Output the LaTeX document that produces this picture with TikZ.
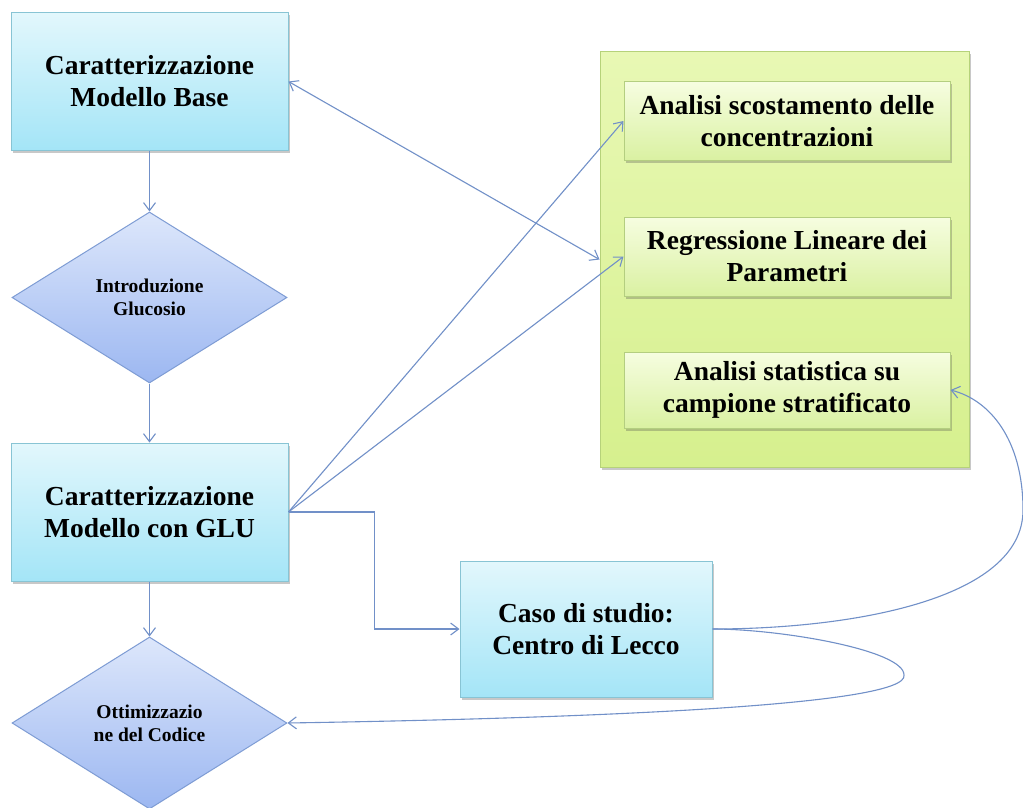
\documentclass[tikz,border=0pt]{standalone}
\usepackage{fontspec}
\setmainfont{Liberation Serif}
\usetikzlibrary{shapes.geometric,arrows.meta,shadows}
\definecolor{cyanTop}{HTML}{E2F7FC}
\definecolor{cyanBot}{HTML}{A4E5F7}
\definecolor{cyanLine}{HTML}{88C4D4}
\definecolor{diaTop}{HTML}{DDE7FB}
\definecolor{diaBot}{HTML}{9CB7F1}
\definecolor{diaLine}{HTML}{7E9CD4}
\definecolor{panTop}{HTML}{E8F8B4}
\definecolor{panBot}{HTML}{D6F08E}
\definecolor{panLine}{HTML}{B6D27A}
\definecolor{inTop}{HTML}{F6FDE0}
\definecolor{inBot}{HTML}{DAF1A2}
\definecolor{inLine}{HTML}{B4CE80}
\definecolor{linec}{HTML}{7190C8}
\begin{document}
\begin{tikzpicture}[x=1pt,y=-1pt,
  bigtext/.style={font=\bfseries\fontsize{27.5}{32}\selectfont,align=center,text=black},
  smalltext/.style={font=\bfseries\fontsize{19.5}{23}\selectfont,align=center,text=black},
  shad/.style={drop shadow={shadow xshift=1.5pt,shadow yshift=-2.5pt,opacity=.3,fill=black!70}},
  cyanbox/.style={rectangle,draw=cyanLine,line width=1pt,top color=cyanTop,bottom color=cyanBot,shad,inner sep=0pt,bigtext},
  diabox/.style={diamond,draw=diaLine,line width=1pt,top color=diaTop,bottom color=diaBot,inner sep=0pt,smalltext},
  panelbox/.style={rectangle,draw=panLine,line width=1pt,top color=panTop,bottom color=panBot,shad,inner sep=0pt},
  greenbox/.style={rectangle,draw=inLine,line width=1pt,top color=inTop,bottom color=inBot,shad,inner sep=0pt,bigtext},
  conn/.style={draw=linec,line width=1.1pt},
  arr/.style={conn,-{Straight Barb[length=8pt,width=12pt]}},
  darr/.style={conn,{Straight Barb[length=8pt,width=12pt]}-{Straight Barb[length=8pt,width=12pt]}}]
\useasboundingbox (0,0) rectangle (1023,808);
\fill[white] (0,0) rectangle (1023,808);

\node[cyanbox,minimum width=277pt,minimum height=137pt] (base) at (149.5,81.5) {Caratterizzazione\\Modello Base};
\node[diabox,minimum width=275pt,minimum height=171pt] (glu) at (149.5,297.5) {Introduzione\\Glucosio};
\node[cyanbox,minimum width=277pt,minimum height=138pt] (mglu) at (149.5,512) {Caratterizzazione\\Modello con GLU};
\node[diabox,minimum width=275pt,minimum height=172pt] (ott) at (149.5,723) {Ottimizzazio\\ne del Codice};
\node[cyanbox,minimum width=252pt,minimum height=136pt] (lecco) at (586,629) {Caso di studio:\\Centro di Lecco};

\node[panelbox,minimum width=369pt,minimum height=415pt] (panel) at (784.5,259.5) {};
\node[greenbox,minimum width=326pt,minimum height=78pt] (scost) at (787,121) {Analisi scostamento delle\\concentrazioni};
\node[greenbox,minimum width=326pt,minimum height=79pt] (regr) at (787,256.5) {Regressione Lineare dei\\Parametri};
\node[greenbox,minimum width=326pt,minimum height=76pt] (stat) at (787,390) {Analisi statistica su\\campione stratificato};

\draw[arr] (base.south) -- (glu.north);
\draw[arr] (glu.south) -- (mglu.north);
\draw[arr] (mglu.south) -- (ott.north);
\draw[darr] (base.east) -- (panel.west);
\draw[arr] (mglu.east) -- (scost.west);
\draw[arr] (mglu.east) -- (regr.west);
\draw[arr] (mglu.east) -- ++(86,0) |- (lecco.west);
\coordinate (r1) at (1023,510);
\coordinate (r2) at (904,675);
\draw[arr] (lecco.east) .. controls (850,629) and (1023,600) .. (r1)
  .. controls (1023,440) and (990,400) .. (stat.east);
\draw[arr] (lecco.east) .. controls (780,629) and (904,650) .. (r2)
  .. controls (910,705) and (600,718) .. (ott.east);
\end{tikzpicture}
\end{document}
